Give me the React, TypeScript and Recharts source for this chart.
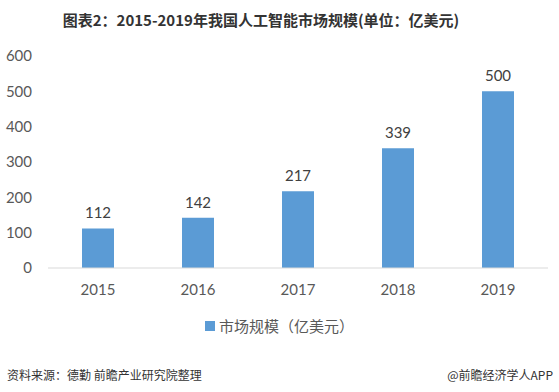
import React from "react";
import { BarChart, Bar, XAxis, YAxis, LabelList } from "recharts";

const years = ["2015", "2016", "2017", "2018", "2019"];
const marketSize = [112, 142, 217, 339, 500];
const yTicks = [0, 100, 200, 300, 400, 500, 600];
const title = "图表2：2015-2019年我国人工智能市场规模(单位：亿美元)";
const seriesName = "市场规模（亿美元）";
const sourceText = "资料来源：德勤 前瞻产业研究院整理";
const brandText = "@前瞻经济学人APP";

const data = years.map((y, i) => ({ year: y, value: marketSize[i] }));

const numFont = "Lato, 'Noto Sans', sans-serif";
const cjkFont = "'Noto Sans CJK SC', sans-serif";

export default function App() {
  return (
    <div style={{ position: "absolute", left: 0, top: 0, width: 559, height: 392, background: "#fff", overflow: "hidden" }}>
      <div style={{ position: "absolute", top: 9, left: 0, width: 522, textAlign: "center", fontFamily: cjkFont, fontWeight: "bold", fontSize: 15, color: "#333", lineHeight: "22px" }}>
        {title}
      </div>
      <BarChart width={559} height={392} data={data} margin={{ top: 56, right: 11, bottom: 94, left: 0 }}>
        <XAxis dataKey="year" height={30} axisLine={{ stroke: "#d9d9d9" }} tickLine={false} tickSize={0} tickMargin={16}
          tick={{ fill: "#595959", fontSize: 15, fontFamily: numFont }} />
        <YAxis width={48} domain={[0, 600]} ticks={yTicks} axisLine={false} tickLine={false} tickSize={0} tickMargin={16}
          tick={{ fill: "#595959", fontSize: 15, fontFamily: numFont }} />
        <Bar dataKey="value" name={seriesName} fill="#5B9BD5" barSize={32} isAnimationActive={false}>
          <LabelList dataKey="value" position="top" offset={10} style={{ fill: "#404040", fontSize: 15, fontFamily: numFont }} />
        </Bar>
      </BarChart>
      <div style={{ position: "absolute", top: 316, left: 0, width: 559, display: "flex", justifyContent: "center", alignItems: "center", fontFamily: cjkFont, fontSize: 15, color: "#595959", lineHeight: "20px" }}>
        <span style={{ display: "inline-block", width: 10, height: 10, background: "#5B9BD5", marginRight: 4 }} />
        <span>{seriesName}</span>
      </div>
      <div style={{ position: "absolute", top: 366, left: 7, fontFamily: cjkFont, fontSize: 12, color: "#333", lineHeight: "18px" }}>
        {sourceText}
      </div>
      <div style={{ position: "absolute", top: 366, right: 6, fontFamily: cjkFont, fontSize: 12, color: "#333", lineHeight: "18px" }}>
        {brandText}
      </div>
    </div>
  );
}
